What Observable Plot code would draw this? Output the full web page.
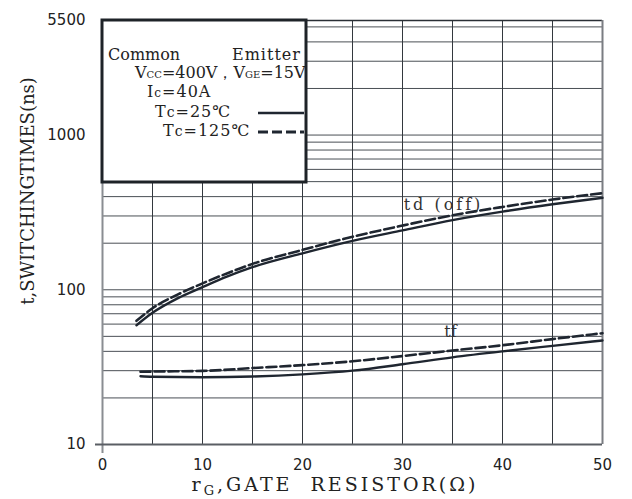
<!DOCTYPE html>
<html><head><meta charset="utf-8">
<script src="https://cdn.jsdelivr.net/npm/d3@7"></script>
<script src="https://cdn.jsdelivr.net/npm/@observablehq/plot@0.6"></script>
<style>
body{margin:0;background:#fff;}
#chart{width:632px;height:499px;}
</style></head><body><div id="chart"></div>
<script>
// ---- data ----
const tdX      = [3.4, 5, 7.5, 10, 12.5, 15, 20, 25, 30, 35, 40, 45, 50];
const tdOff25  = [59, 71, 88, 104, 122, 140, 172, 207, 242, 282, 320, 357, 393];
const tdOff125 = [63, 76, 93, 110, 128, 147, 181, 220, 260, 303, 343, 383, 421];
const tfX      = [3.8, 5, 10, 15, 20, 25, 30, 35, 40, 45, 50];
const tf25     = [27.6, 27.4, 27.2, 27.5, 28.4, 30.0, 33.0, 36.6, 40.0, 43.4, 47.0];
const tf125    = [29.5, 29.6, 29.9, 31.2, 32.6, 34.5, 37.3, 40.5, 43.8, 48.0, 52.4];
const gridY    = [20,30,40,50,60,70,80,90,100,200,300,400,500,600,700,800,900,1000,2000,3000,4000,5000];
const gridX    = [5,10,15,20,25,30,35,40,45];
const yTicks   = [10, 100, 1000, 5500];
const xTicks   = [0, 10, 20, 30, 40, 50];
const curveLabels = ["td (off)", "tf"];
const curveLabelX = [34.1, 34.8];
const curveLabelY = [356, 53.7];

const toRows = (xs, ys) => xs.map((x, i) => ({x, y: ys[i]}));
const labels = curveLabels.map((t, i) => ({t, x: curveLabelX[i], y: curveLabelY[i]}));

const ink = "#1f2630";
const chart = Plot.plot({
  width: 632, height: 499,
  marginLeft: 102, marginRight: 30, marginTop: 20, marginBottom: 55,
  style: {fontFamily: "DejaVu Sans", fontSize: "15px", color: "#222", background: "#fff", overflow: "visible"},
  x: {domain: [0, 50], axis: null},
  y: {type: "log", domain: [10, 5500], axis: null},
  marks: [
    Plot.ruleY(gridY, {stroke: "#4a4f55", strokeWidth: 1}),
    Plot.ruleX(gridX, {stroke: "#33383e", strokeWidth: 1}),
    Plot.ruleY([5500], {stroke: "#2a2f35", strokeWidth: 1.5}),
    Plot.ruleX([50], {stroke: "#7a7d82", strokeWidth: 2}),
    Plot.ruleX([0], {stroke: "#8a8d92", strokeWidth: 2, insetBottom: -9}),
    Plot.ruleY([10], {stroke: "#5a5e64", strokeWidth: 2, insetLeft: -7}),
    Plot.line(toRows(tdX, tdOff25), {x: "x", y: "y", stroke: ink, strokeWidth: 2.4, curve: "monotone-x"}),
    Plot.line(toRows(tdX, tdOff125), {x: "x", y: "y", stroke: ink, strokeWidth: 2.6, strokeDasharray: "10,4", curve: "monotone-x"}),
    Plot.line(toRows(tfX, tf25), {x: "x", y: "y", stroke: ink, strokeWidth: 2.4, curve: "monotone-x"}),
    Plot.line(toRows(tfX, tf125), {x: "x", y: "y", stroke: ink, strokeWidth: 2.6, strokeDasharray: "10,4", curve: "monotone-x"}),
    Plot.text(labels, {x: "x", y: "y", text: "t", fontFamily: "DejaVu Serif", fontSize: 16, fill: "#333"}),
    Plot.text(xTicks, {x: d => d, y: 10, text: d => String(d), dy: 21, fill: "#222"}),
    Plot.text(yTicks, {x: 0, y: d => d, text: d => String(d), textAnchor: "end", dx: -17, fill: "#222"})
  ]
});
document.getElementById("chart").appendChild(chart);

const svg = d3.select(chart);
svg.selectAll("text").filter(function() { return this.textContent === curveLabels[0]; })
  .attr("letter-spacing", 3);

// axis titles
const xt = svg.append("text").attr("x", 335).attr("y", 491).attr("text-anchor", "middle")
  .attr("font-family", "DejaVu Serif").attr("font-size", 19).attr("fill", "#222")
  .attr("letter-spacing", 3).attr("xml:space", "preserve");
xt.append("tspan").text("r");
xt.append("tspan").attr("font-size", 13).attr("dy", 4).text("G");
xt.append("tspan").attr("dy", -4).text(",GATE  RESISTOR(Ω)");

svg.append("text").attr("transform", "translate(34,191) rotate(-90)").attr("text-anchor", "middle")
  .attr("font-family", "DejaVu Serif").attr("font-size", 18).attr("fill", "#222")
  .text("t,SWITCHINGTIMES(ns)");

// legend box
const lg = svg.append("g").attr("font-family", "DejaVu Serif").attr("font-size", 16)
  .attr("fill", "#222").attr("text-anchor", "start");
lg.append("rect").attr("x", 102).attr("y", 20).attr("width", 204).attr("height", 162)
  .attr("fill", "#fff").attr("stroke", "#1e2328").attr("stroke-width", 3);
lg.append("text").attr("x", 108).attr("y", 60).text("Common");
lg.append("text").attr("x", 232).attr("y", 60).attr("letter-spacing", 1).text("Emitter");
const l2 = lg.append("text").attr("x", 135).attr("y", 78);
l2.append("tspan").text("V");
l2.append("tspan").attr("font-size", 10).text("CC");
l2.append("tspan").text("=400V，V");
l2.append("tspan").attr("font-size", 10).text("GE");
l2.append("tspan").text("=15V");
const l3 = lg.append("text").attr("x", 147).attr("y", 97).attr("letter-spacing", 1);
l3.append("tspan").text("I");
l3.append("tspan").attr("font-size", 12).text("c");
l3.append("tspan").text("=40A");
const l4 = lg.append("text").attr("x", 155).attr("y", 117).attr("letter-spacing", 1);
l4.append("tspan").text("T");
l4.append("tspan").attr("font-size", 14).text("c");
l4.append("tspan").text("=25℃");
const l5 = lg.append("text").attr("x", 163).attr("y", 136).attr("letter-spacing", 1);
l5.append("tspan").text("T");
l5.append("tspan").attr("font-size", 14).text("c");
l5.append("tspan").text("=125℃");
lg.append("line").attr("x1", 258).attr("x2", 304).attr("y1", 113).attr("y2", 113)
  .attr("stroke", ink).attr("stroke-width", 2.5);
lg.append("line").attr("x1", 258).attr("x2", 304).attr("y1", 132).attr("y2", 132)
  .attr("stroke", ink).attr("stroke-width", 2.8).attr("stroke-dasharray", "10,4");
</script>
</body></html>
